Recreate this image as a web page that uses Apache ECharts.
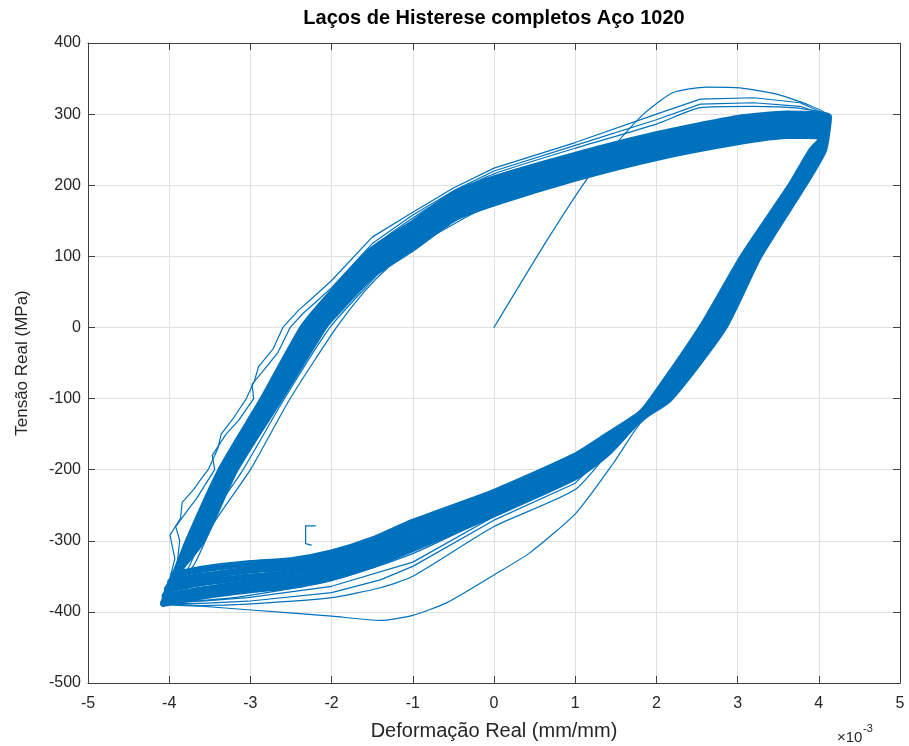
<!DOCTYPE html>
<html>
<head>
<meta charset="utf-8">
<script src="https://cdn.jsdelivr.net/npm/echarts@6/dist/echarts.min.js"></script>
<style>
  html, body { margin: 0; padding: 0; background: #fff; }
  #chart { width: 909px; height: 746px; }
</style>
</head>
<body>
<div id="chart"></div>
<script>
// strain in 1e-3 mm/mm, stress in MPa
const xTicks = [-5, 5, 1];
const yTicks = [-500, 400, 100];

// first loading, unloading down to the lowest compression curve, and reload
const firstCycle = [
  [0, 0], [0.65, 122], [1.16, 211], [1.5, 258], [1.84, 300], [2.2, 330], [2.62, 338],
  [3.03, 337], [3.48, 328], [3.85, 314], [4.12, 297],
  [4.06, 250], [3.81, 200], [3.26, 100], [2.83, 0], [2.16, -100], [1.8, -135],
  [1.47, -191], [1.01, -261], [0.44, -317], [0, -348], [-0.58, -387], [-1, -405],
  [-1.4, -412], [-2.0, -406], [-3.03, -397], [-3.6, -392], [-4.07, -388],
  [-3.7, -335], [-3.45, -275], [-3.0, -200], [-2.51, -100], [-1.94, 0], [-1.6, 50],
  [-1.3, 85], [-1.0, 112], [0, 175], [1, 210], [2, 239], [3, 262], [4.08, 268]
];

const cycle2 = [
  [-4.05, -386], [-3.75, -335], [-3.5, -270], [-3.09, -200], [-2.58, -100], [-2.02, 0],
  [-1.55, 60], [-1.0, 125], [0, 190], [1, 225], [2, 255], [3, 278], [4.1, 282],
  [3.99, 250], [3.74, 200], [3.17, 100], [2.7, 0], [2.06, -100], [1.8, -130],
  [1.47, -168], [1.0, -228], [0, -280], [-1, -350], [-1.4, -366], [-2, -380],
  [-3.03, -389], [-3.6, -391], [-4.06, -388]
];

const cycle3 = [
  [-4.07, -388], [-3.93, -325], [-3.99, -292], [-3.86, -268], [-3.84, -246], [-3.70, -228],
  [-3.60, -212], [-3.52, -200], [-3.40, -170], [-3.36, -150], [-3.20, -126], [-3.05, -100],
  [-2.95, -75], [-2.90, -55], [-2.72, -30], [-2.60, 0], [-2.40, 25], [-2.25, 40], [-2.0, 66],
  [-1.5, 127], [-1.0, 162], [-0.5, 196], [0, 224], [1, 260], [2, 300], [2.54, 321],
  [3.2, 323], [3.77, 316], [4.12, 298],
  [4.06, 250], [3.81, 200], [3.26, 100], [2.83, 0], [2.16, -100], [1.8, -128],
  [1.47, -165], [1.0, -219], [0, -271], [-1, -336], [-1.4, -355], [-2, -373],
  [-3.03, -385], [-3.6, -388], [-4.07, -388]
];

const cycle4 = [
  [-4.06, -387], [-3.90, -330], [-3.87, -300], [-3.92, -280], [-3.76, -255], [-3.66, -240],
  [-3.44, -200], [-3.47, -180], [-3.30, -150], [-3.14, -130], [-2.96, -100], [-2.98, -80],
  [-2.80, -55], [-2.66, -35], [-2.51, 0], [-2.35, 20], [-2.2, 35], [-2.0, 56],
  [-1.5, 118], [-1.0, 158], [-0.5, 192], [0, 220], [1, 256], [2, 292], [2.54, 314],
  [3.2, 316], [3.77, 311], [4.12, 297],
  [4.06, 250], [3.81, 200], [3.26, 100], [2.83, 0], [2.16, -100], [1.8, -128],
  [1.4, -160], [1.0, -213], [0, -266], [-1, -330], [-2, -364], [-3.03, -380],
  [-3.6, -385], [-4.06, -387]
];

const cycle5 = [
  [-4.06, -386], [-3.8, -300], [-3.38, -200], [-2.86, -100], [-2.37, 0], [-2.0, 50],
  [-1.5, 112], [-1.0, 154], [-0.5, 189], [0, 216], [1, 252], [2, 286], [2.54, 309],
  [3.2, 311], [3.77, 308], [4.12, 297],
  [4.06, 250], [3.81, 200], [3.26, 100], [2.83, 0], [2.16, -100], [1.8, -128],
  [1.4, -176], [1.0, -212], [0, -264], [-1, -318], [-2, -356], [-3.03, -377],
  [-3.6, -384], [-4.06, -386]
];

// the dense bundle of stabilised cycles, outer to inner
const band0 = [
  [-4.07, -388], [-3.76, -300], [-3.36, -200], [-2.84, -100], [-2.35, 0], [-2.0, 48],
  [-1.5, 109], [-1.0, 146], [-0.5, 187], [0, 209], [1, 242], [2, 271], [3, 294],
  [3.6, 300], [4.12, 296], [4.06, 250], [3.81, 200], [3.26, 100], [2.83, 0],
  [2.16, -100], [1.8, -128], [1.4, -176], [1.0, -210], [0, -262], [-1, -311],
  [-1.5, -334], [-2, -351], [-2.5, -363], [-3, -369], [-3.6, -378], [-4.07, -388]
];
const band1 = [
  [-4.05, -378], [-3.72, -300], [-3.32, -200], [-2.79, -100], [-2.29, 0], [-2.0, 40],
  [-1.5, 100], [-1.0, 138], [-0.5, 179], [0, 201], [1, 234], [2, 263], [3, 286],
  [3.6, 293], [4.11, 289], [4.02, 250], [3.77, 200], [3.21, 100], [2.76, 0],
  [2.11, -100], [1.8, -127], [1.4, -170], [1.0, -203], [0, -255], [-1, -302],
  [-1.5, -326], [-2, -343], [-2.5, -355], [-3, -360], [-3.6, -369], [-4.05, -378]
];
const band2 = [
  [-4.02, -368], [-3.68, -300], [-3.28, -200], [-2.74, -100], [-2.23, 0], [-2.0, 31],
  [-1.5, 92], [-1.0, 129], [-0.5, 170], [0, 192], [1, 226], [2, 255], [3, 278],
  [3.6, 285], [4.1, 282], [3.99, 250], [3.74, 200], [3.17, 100], [2.70, 0],
  [2.06, -100], [1.8, -125], [1.4, -164], [1.0, -196], [0, -247], [-1, -293],
  [-1.5, -317], [-2, -334], [-2.5, -346], [-3, -351], [-3.6, -359], [-4.02, -368]
];
const band3 = [
  [-3.98, -358], [-3.64, -300], [-3.23, -200], [-2.69, -100], [-2.16, 0], [-2.0, 23],
  [-1.5, 83], [-1.0, 121], [-0.5, 162], [0, 184], [1, 218], [2, 247], [3, 269],
  [3.6, 278], [4.09, 275], [3.95, 250], [3.70, 200], [3.12, 100], [2.63, 0],
  [2.01, -100], [1.8, -124], [1.4, -158], [1.0, -188], [0, -240], [-1, -283],
  [-1.5, -308], [-2, -326], [-2.5, -337], [-3, -341], [-3.6, -350], [-3.98, -358]
];
const band4 = [
  [-3.94, -348], [-3.60, -300], [-3.19, -200], [-2.64, -100], [-2.10, 0], [-2.0, 14],
  [-1.5, 74], [-1.0, 112], [-0.5, 153], [0, 175], [1, 210], [2, 239], [3, 261],
  [3.6, 270], [4.08, 268], [3.92, 250], [3.66, 200], [3.07, 100], [2.56, 0],
  [1.96, -100], [1.8, -122], [1.4, -152], [1.0, -181], [0, -232], [-1, -274],
  [-1.5, -299], [-2, -317], [-2.5, -328], [-3, -332], [-3.6, -340], [-3.94, -348]
];

// small spike on the compression branch
const spike = [[-2.2, -279], [-2.32, -279], [-2.32, -304], [-2.25, -306]];

const BLUE = '#0072BD';
const TEXT = '#262626';
const FONT = '"Liberation Sans", Arial, Helvetica, sans-serif';

function lineSeries(data, width, smooth) {
  return {
    type: 'line',
    data: data,
    showSymbol: false,
    symbol: 'none',
    smooth: smooth,
    silent: true,
    lineStyle: { color: BLUE, width: width, join: 'round', cap: 'round' }
  };
}

const axisCommon = {
  type: 'value',
  axisLine: { show: true, onZero: false, lineStyle: { color: '#404040', width: 1 } },
  axisTick: { show: true, inside: true, length: 7, lineStyle: { color: '#404040' } },
  axisLabel: { color: TEXT, fontSize: 16, fontFamily: FONT },
  nameTextStyle: { color: TEXT, fontFamily: FONT }
};

const chart = echarts.init(document.getElementById('chart'));
chart.setOption({
  animation: false,
  backgroundColor: '#fff',
  title: {
    text: 'Laços de Histerese completos Aço 1020',
    left: 494,
    top: 8,
    padding: 0,
    textAlign: 'center',
    textStyle: { color: '#000', fontSize: 20, fontWeight: 'bold', fontFamily: FONT }
  },
  grid: { left: 88, right: 9, top: 43, bottom: 61 },
  xAxis: [
    Object.assign({}, axisCommon, {
      min: xTicks[0], max: xTicks[1], interval: xTicks[2],
      position: 'bottom',
      name: 'Deformação Real (mm/mm)',
      nameLocation: 'middle',
      nameGap: 38,
      nameTextStyle: { color: TEXT, fontSize: 20, fontFamily: FONT },
      axisLabel: { color: TEXT, fontSize: 16, fontFamily: FONT, margin: 13 },
      splitLine: { show: true, lineStyle: { color: '#e0e0e0', width: 1 } }
    }),
    Object.assign({}, axisCommon, {
      min: xTicks[0], max: xTicks[1], interval: xTicks[2],
      position: 'top',
      axisLabel: { show: false },
      splitLine: { show: false }
    })
  ],
  yAxis: [
    Object.assign({}, axisCommon, {
      min: yTicks[0], max: yTicks[1], interval: yTicks[2],
      position: 'left',
      name: 'Tensão Real (MPa)',
      nameLocation: 'middle',
      nameGap: 57,
      nameTextStyle: { color: TEXT, fontSize: 17, fontFamily: FONT },
      axisLabel: { color: TEXT, fontSize: 16, fontFamily: FONT, margin: 7 },
      splitLine: { show: true, lineStyle: { color: '#e0e0e0', width: 1 } }
    }),
    Object.assign({}, axisCommon, {
      min: yTicks[0], max: yTicks[1], interval: yTicks[2],
      position: 'right',
      axisLabel: { show: false },
      splitLine: { show: false }
    })
  ],
  graphic: [
    { type: 'text', left: 837, top: 730, style: { text: '×10', fill: TEXT, fontSize: 15, fontFamily: FONT } },
    { type: 'text', left: 863, top: 723, style: { text: '-3', fill: TEXT, fontSize: 11, fontFamily: FONT } }
  ],
  series: [
    lineSeries(band0, 7, 0.2),
    lineSeries(band1, 7, 0.2),
    lineSeries(band2, 7, 0.2),
    lineSeries(band3, 7, 0.2),
    lineSeries(band4, 7, 0.2),
    lineSeries(firstCycle, 1.2, 0.2),
    lineSeries(cycle2, 1.2, 0.2),
    lineSeries(cycle3, 1.2, false),
    lineSeries(cycle4, 1.2, false),
    lineSeries(cycle5, 1.2, 0.2),
    lineSeries(spike, 1.2, false)
  ]
});
</script>
</body>
</html>
